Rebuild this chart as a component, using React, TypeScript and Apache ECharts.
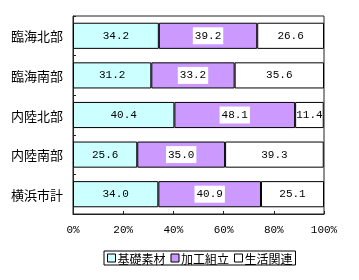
import React, { useEffect, useRef } from "react";
import * as echarts from "echarts";

const categories = ["臨海北部", "臨海南部", "内陸北部", "内陸南部", "横浜市計"];
const seriesNames = ["基礎素材", "加工組立", "生活関連"];
const kiso = [34.2, 31.2, 40.4, 25.6, 34.0];
const kakou = [39.2, 33.2, 48.1, 35.0, 40.9];
const seikatsu = [26.6, 35.6, 11.4, 39.3, 25.1];
const colors = ["#CCFFFF", "#CC99FF", "#FFFFFF"];

export default function App() {
  const ref = useRef<HTMLDivElement>(null);
  useEffect(() => {
    const chart = echarts.init(ref.current!, null, { renderer: "svg" });
    const mono = "'Liberation Mono', 'DejaVu Sans Mono', monospace";
    const cjk = "'Noto Sans CJK JP', sans-serif";
    const datas = [kiso, kakou, seikatsu];
    chart.setOption({
      animation: false,
      grid: {
        left: 73,
        right: 35,
        top: 16,
        bottom: 66,
        show: true,
        borderColor: "#222",
        borderWidth: 1,
      },
      legend: {
        left: 104,
        top: 251,
        orient: "horizontal",
        borderColor: "#000",
        borderWidth: 1,
        padding: [1, 3, 1, 3],
        itemWidth: 8,
        itemHeight: 8,
        itemGap: 5,
        textStyle: { fontFamily: cjk, fontSize: 12, color: "#000", padding: [0, 0, 0, -3] },
        data: seriesNames.map((n, i) => ({
          name: n,
          icon: "rect",
          itemStyle: { color: colors[i], borderColor: "#000", borderWidth: 1 },
        })),
      },
      xAxis: {
        type: "value",
        min: 0,
        max: 100,
        interval: 20,
        axisLine: { show: true, lineStyle: { color: "#222" } },
        axisTick: { show: true, inside: true, length: 3, lineStyle: { color: "#222" } },
        splitLine: { show: false },
        axisLabel: {
          formatter: "{value}%",
          fontFamily: mono,
          fontSize: 11,
          color: "#000",
          margin: 10,
        },
      },
      yAxis: {
        type: "category",
        data: categories,
        inverse: true,
        axisLine: { show: true, lineStyle: { color: "#222" } },
        axisTick: { show: true, inside: true, length: 3, lineStyle: { color: "#222" } },
        axisLabel: { fontFamily: cjk, fontSize: 13, color: "#000", margin: 10 },
      },
      series: seriesNames.map((n, i) => ({
        name: n,
        type: "bar",
        stack: "total",
        barWidth: "66%",
        data: datas[i],
        itemStyle: { color: colors[i], borderColor: "#000", borderWidth: 1 },
        label: {
          show: true,
          position: "inside",
          formatter: (p: any) => Number(p.value).toFixed(1),
          fontFamily: mono,
          fontSize: 11,
          color: "#000",
          backgroundColor: i === 1 ? "#fff" : "transparent",
          padding: i === 1 ? [3, 2, 3, 2] : 0,
        },
      })),
    });
    return () => chart.dispose();
  }, []);
  return (
    <div
      ref={ref}
      style={{ position: "fixed", left: 0, top: 0, width: 359, height: 280 }}
    />
  );
}
